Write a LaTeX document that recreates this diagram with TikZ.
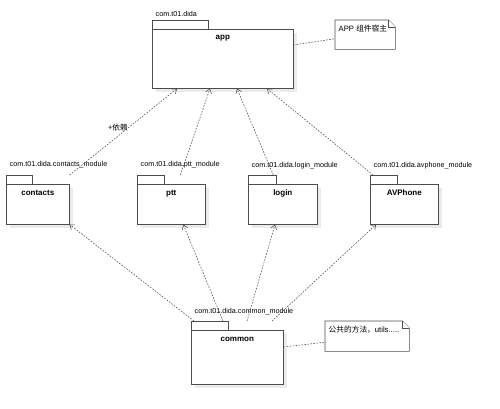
\documentclass[tikz,border=0pt]{standalone}
\usepackage{fontspec}
\setmainfont{Liberation Sans}
\newfontfamily\cjk{Noto Sans CJK SC}
\usetikzlibrary{arrows.meta,calc}

\tikzset{
  pkgbody/.style={draw=black!70, line width=.6pt, fill=white, anchor=north west, inner sep=0pt},
  pkgtab/.style={draw=black!70, line width=.6pt, fill=white},
  pkgshadow/.style={fill=black!8},
  pkgpath/.style={anchor=base west, inner sep=0pt, font=\fontsize{7.2}{8}\selectfont},
  pkgname/.style={anchor=base, inner sep=0pt, font=\fontsize{8}{9}\selectfont\bfseries},
  notebox/.style={anchor=north west, inner sep=0pt, draw=none},
  notetext/.style={anchor=west, inner sep=0pt, font=\fontsize{7.7}{9}\selectfont},
  depend/.style={draw=black!70, line width=.55pt, dash pattern=on 1.6pt off 1.4pt, -{Straight Barb[length=4pt,width=6pt]}},
  noteline/.style={draw=black!70, line width=.55pt, dash pattern=on 1.6pt off 1.4pt},
}

\begin{document}
\begin{tikzpicture}[x=1pt, y=-1pt]
  \useasboundingbox (0,0) rectangle (500,409);

  % packages: name/x/y/width/height/tab/title/path/baseline of path
  \foreach \n/\x/\y/\w/\h/\t/\title/\pth/\py in {
      app/152/29/141/59/56/app/com.t01.dida/17,
      contacts/6/184/63/40/26/contacts/com.t01.dida.contacts\_module/166,
      ptt/137/184/68/40/27/ptt/com.t01.dida.ptt\_module/166,
      login/248/184/69/40/28/login/com.t01.dida.login\_module/167,
      avphone/370/184/68/40/27/AVPhone/com.t01.dida.avphone\_module/167,
      common/191/330/92/54/37/common/com.t01.dida.common\_module/313}{
    \fill[pkgshadow] (\x+4,\y+4) rectangle ++(\w,\h);
    \draw[pkgtab] (\x,\y) rectangle ++(\t,-8.5);
    \node[pkgbody, minimum width=\w, minimum height=\h] (\n) at (\x,\y) {};
    \node[pkgname] (\n-name) at ($(\n.north)+(0,11)$) {\title};
    \node[pkgpath] (\n-path) at (\x+3.5,\py) {\pth};
  }

  % notes
  \node[notebox, minimum width=60, minimum height=29] (host) at (335,20) {};
  \draw[pkgtab] (host.north west) -- ($(host.north east)+(-7,0)$) -- ($(host.north east)+(0,7)$)
    -- (host.south east) -- (host.south west) -- cycle;
  \draw[pkgtab] ($(host.north east)+(-7,0)$) -- ($(host.north east)+(-7,7)$) -- ($(host.north east)+(0,7)$);
  \node[notetext] (host-text) at (338.5,28.5) {APP {\cjk 组件宿主}};

  \node[notebox, minimum width=84, minimum height=30] (utils) at (325,321) {};
  \draw[pkgtab] (utils.north west) -- ($(utils.north east)+(-7,0)$) -- ($(utils.north east)+(0,7)$)
    -- (utils.south east) -- (utils.south west) -- cycle;
  \draw[pkgtab] ($(utils.north east)+(-7,0)$) -- ($(utils.north east)+(-7,7)$) -- ($(utils.north east)+(0,7)$);
  \node[notetext] (utils-text) at (328.5,329.5) {{\cjk 公共的方法，}utils.....};

  % dependencies on app
  \draw[depend] ($(contacts.north east)+(0,-9)$) -- ($(app.south west)+(25,0)$)
    node[pos=.45, above=5pt, inner sep=0pt, font=\fontsize{7.7}{9}\selectfont] (dep-label) {{\cjk +依赖}};
  \draw[depend] ($(ptt.north)+(9,-9)$) -- ($(app.south west)+(58,0)$);
  \draw[depend] ($(login.north)+(-9.5,-9)$) -- ($(app.south west)+(85,0)$);
  \draw[depend] ($(avphone.north west)+(3,-9)$) -- ($(app.south west)+(115,0)$);

  % dependencies on common
  \draw[depend] ($(common.north west)+(3,-9)$) -- (contacts.south east);
  \draw[depend] ($(common.north west)+(32,-9)$) -- ($(ptt.south)+(12,0)$);
  \draw[depend] ($(common.north west)+(56,-9)$) -- ($(login.south west)+(27,0)$);
  \draw[depend] ($(common.north west)+(81,-9)$) -- ($(avphone.south west)+(6,0)$);

  % note links
  \draw[noteline] ($(app.north east)+(0,16)$) -- ($(host.west)+(0,4)$);
  \draw[noteline] ($(common.north east)+(0,17)$) -- ($(utils.west)+(0,6)$);
\end{tikzpicture}
\end{document}
